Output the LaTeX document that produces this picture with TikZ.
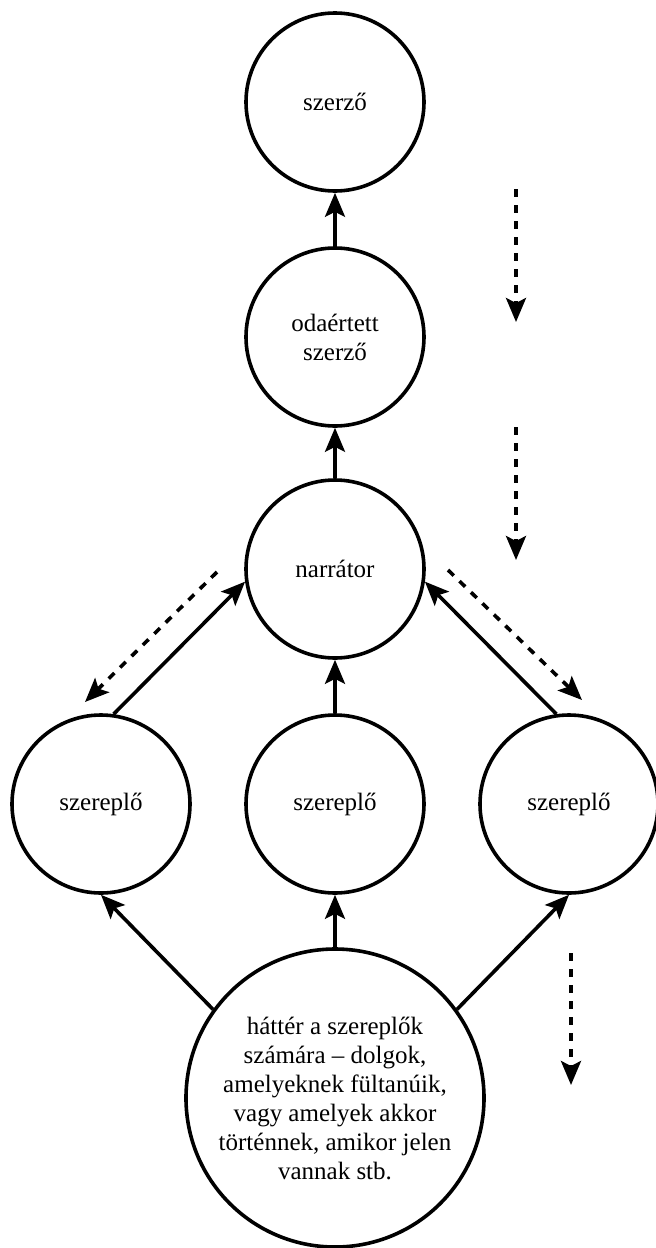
\documentclass[tikz,border=0pt]{standalone}
\usepackage{fontspec}
\setmainfont{Liberation Serif}
\usepackage{tikz}
\usetikzlibrary{arrows.meta}

\tikzset{
  figura/.style={draw, circle, line width=1.8pt, minimum size=89pt, inner sep=0pt,
    align=center, font=\fontsize{12.5}{14.5}\selectfont},
  link/.style={line width=1.8pt, -{Stealth[length=12pt,width=10pt,inset=2.5pt]}},
  hint/.style={link, dash pattern=on 4pt off 4pt}
}

\begin{document}
\begin{tikzpicture}[x=.5pt,y=-.5pt]
\useasboundingbox (0,0) rectangle (655,1248);
% levels
\node[figura] (szerzo) at (335,102) {szerző};
\node[figura] (odaertett) at (335,337) {odaértett\\szerző};
\node[figura] (narrator) at (335,569) {narrátor};
\node[figura] (szbal) at (101,804) {szereplő};
\node[figura] (szkozep) at (335,804) {szereplő};
\node[figura] (szjobb) at (569,804) {szereplő};
\node[figura, minimum size=149pt] (hatter) at (335,1098)
  {háttér a szereplők\\számára – dolgok,\\amelyeknek fültanúik,\\vagy amelyek akkor\\történnek, amikor jelen\\vannak stb.};
% upward arrows
\draw[link] (odaertett) -- (szerzo);
\draw[link] (narrator) -- (odaertett);
\draw[link] (szkozep) -- (narrator);
\draw[link] (szbal.82) -- (narrator.188);
\draw[link] (szjobb.98) -- (narrator.352);
\draw[link] (hatter) -- (szkozep);
\draw[link] (hatter.144) -- (szbal.south);
\draw[link] (hatter.36) -- (szjobb.south);
% dashed arrows
\coordinate (f1) at (516,189);
\coordinate (t1) at (516,322);
\coordinate (f2) at (516,427);
\coordinate (t2) at (516,560);
\coordinate (f3) at (571,953);
\coordinate (t3) at (571,1085);
\coordinate (fb) at (217,572);
\coordinate (tb) at (85,702);
\coordinate (fj) at (448,570);
\coordinate (tj) at (582,700);
\draw[hint] (f1) -- (t1);
\draw[hint] (f2) -- (t2);
\draw[hint] (f3) -- (t3);
\draw[hint] (fb) -- (tb);
\draw[hint] (fj) -- (tj);
\end{tikzpicture}
\end{document}
